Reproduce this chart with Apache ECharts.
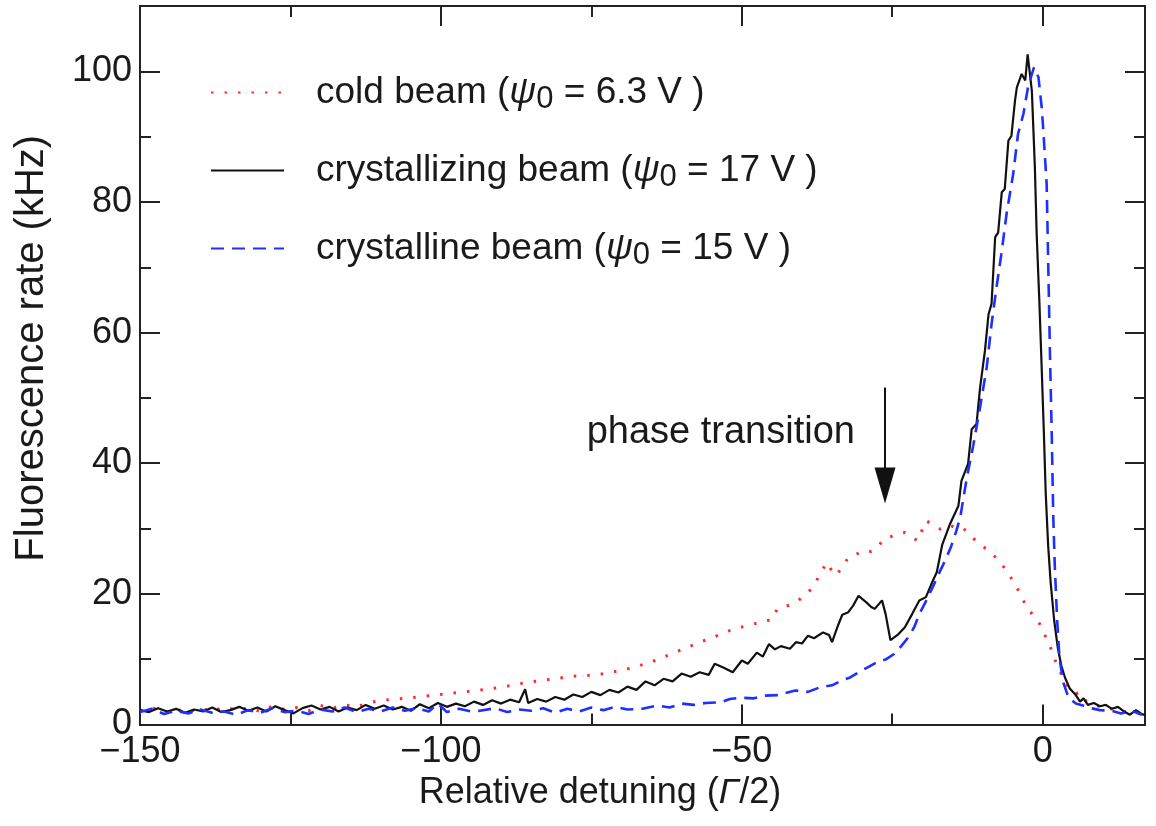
<!DOCTYPE html>
<html>
<head>
<meta charset="utf-8">
<script src="https://cdn.jsdelivr.net/npm/echarts@6/dist/echarts.min.js"></script>
<style>
  html, body { margin: 0; padding: 0; background: #fff; }
  #chart { width: 1156px; height: 826px; }
</style>
</head>
<body>
<div id="chart"></div>
<script>
// cold beam (psi0 = 6.3 V), red dotted
const coldX = [-150, -148, -146, -144, -142, -140, -138, -136, -134, -132, -130, -128, -126, -124, -122, -120, -118, -116, -114, -112,
  -110, -106, -102, -98, -94, -90, -86, -82, -78, -74, -70, -67.7, -64, -61.8, -59, -57.1, -55, -53, -50.5, -48.8, -46, -45, -44.1,
  -42, -40.6, -39, -38.2, -37, -35.9, -35, -34.4, -33.3, -32.3, -31, -30, -28.5, -27.6, -26.4, -24.5, -22.9, -21.5, -20.8, -19.4,
  -18, -17, -15.5, -14.6, -13.4, -12.2, -11.1, -10, -8.7, -7.2, -5.8, -4.2, -2.8, -1.5, -0.5, 0.5, 1.3, 2.2, 3.1, 4.2, 5.5, 6.2,
  7.2, 8.5, 10.2, 12, 13.5, 14.8, 16.5];
const coldY = [2.1, 2.6, 1.8, 2.3, 1.9, 2.5, 2.0, 2.7, 2.2, 2.5, 2.0, 2.8, 2.3, 2.6, 2.1, 2.9, 2.5, 3.0, 2.7, 3.3,
  3.7, 4.0, 4.4, 4.8, 5.2, 5.7, 6.4, 6.9, 7.4, 7.6, 8.3, 8.8, 9.9, 10.8, 11.8, 12.6, 13.2, 14.1, 14.8, 15.2, 15.9, 16.0, 17.7,
  18.3, 19.0, 20.2, 21.0, 23.0, 24.8, 23.5, 22.8, 24.0, 25.6, 26.0, 26.6, 26.5, 26.9, 28.4, 29.0, 29.4, 28.6, 28.1, 31.2,
  30.5, 29.9, 30.5, 30.2, 30.2, 29.2, 28.1, 27.3, 26.4, 25.0, 23.3, 20.8, 18.2, 16.6, 15.4, 13.4, 11.8, 9.5, 7.7, 5.8, 4.7, 4.9,
  3.6, 3.0, 2.6, 2.3, 2.0, 1.9, 1.7];

// crystallizing beam (psi0 = 17 V), black solid
const crystallizingX = [-150, -148.5, -147, -145.5, -144, -142.5, -141, -139.5, -138, -136.5, -135, -133.5, -132, -130.5, -129,
  -127.5, -126, -124.5, -123, -121.5, -120, -118.5, -117, -115.5, -114, -112.5, -111, -109.5, -108, -106.5, -105, -103.5, -102,
  -100.5, -99, -97.5, -96, -94.5, -93, -91.5, -90, -88.5, -87, -86, -85.5, -84, -82.5, -81, -79.5, -78, -76.5, -75, -73.5, -72,
  -70.5, -69, -67.5, -66, -64.5, -63, -61.5, -60, -58.5, -57, -55.5, -54.5, -53, -51.5, -50, -49, -47.5, -46.5, -45.5, -44.5,
  -43.5, -42, -41, -40, -39, -38, -36.5, -35.5, -35, -34, -33.3, -32.3, -31.5, -30.6, -29.3, -28.5, -27.9, -26.7, -26.1, -25.3,
  -24, -22.9, -21.7, -20.5, -19.4, -18.5, -17.6, -16.7, -15.4, -14, -13.5, -12.4, -11.8, -11, -10.4, -9.6, -9, -8.5, -7.9,
  -7.4, -6.8, -6.3, -5.7, -5.2, -4.6, -4.3, -3.5, -2.9, -2.5, -1.8, -1.5, -1.3, -1, -0.56, -0.17, 0.2, 0.5, 0.9, 1.3, 1.9,
  2.5, 3.1, 3.7, 4.5, 5.5, 6.2, 6.8, 7.5, 8.5, 9.5, 10.5, 11.5, 12.5, 13.5, 14.5, 15.5, 16.5, 17];
const crystallizingY = [2.2, 1.9, 2.5, 2.0, 2.4, 1.8, 2.3, 2.0, 2.6, 1.9, 2.2, 2.7, 2.1, 2.6, 2.0,
  2.8, 2.2, 1.7, 2.5, 2.9, 2.3, 2.7, 2.0, 2.6, 2.2, 3.0, 2.4, 2.9, 2.3, 2.7, 2.1, 3.1, 2.5,
  3.3, 2.7, 3.2, 2.8, 3.5, 3.0, 3.7, 3.2, 3.8, 3.4, 5.4, 3.3, 3.9, 3.5, 4.2, 3.8, 4.6, 4.2, 5.0, 4.5, 5.3,
  4.9, 5.8, 5.3, 6.6, 6.0, 7.0, 6.6, 7.8, 7.3, 8.0, 7.6, 9.3, 8.7, 8.0, 9.8, 9.3, 11.0, 10.4, 12.3, 11.5,
  12.0, 11.6, 12.6, 12.4, 13.6, 13.2, 14.1, 13.7, 12.6, 15.2, 16.8, 17.2, 18.2, 19.7, 18.7, 18.0, 17.7, 19.0, 16.9, 12.9,
  13.8, 14.9, 16.9, 19.0, 19.5, 21.5, 23.3, 27.5, 30.7, 33.5, 37.3, 39.9, 45.2, 46.0, 51.6, 57.2, 62.8, 64.4, 74.6,
  75.3, 81.5, 82.0, 89.4, 90.1, 95.5, 97.5, 99.6, 98.6, 102.6, 97.0, 90.0, 85.3, 75.1, 64.9, 54.7, 44.5, 35.5, 27.5, 22.0, 16.0,
  11.8, 9.0, 7.2, 5.5, 4.5, 3.5, 4.0, 3.0, 3.3, 2.8, 3.0, 2.4, 2.7, 2.0, 1.5, 2.2, 1.6, 1.4];

// crystalline beam (psi0 = 15 V), blue dashed
const crystallineX = [-150, -148, -146, -144, -142, -140, -138, -136, -134, -132, -130, -128, -126, -124, -122, -120, -118, -116,
  -114, -112, -110, -108, -106, -104, -102, -100.5, -99, -97, -95, -93.5, -91, -89, -87, -85, -83, -81, -79, -77, -75, -73, -71,
  -69, -66.5, -64, -62, -60, -58, -56, -53.5, -52, -50, -48, -46.5, -44, -41.1, -39, -37, -35, -33.5, -32, -30.6, -29, -27.6,
  -26, -24.7, -23.5, -22.3, -21.3, -20.5, -19.6, -18.8, -17.9, -17, -16.1, -15.2, -14.4, -13.7, -13.2, -12.6, -11.5, -10.4,
  -9.3, -8.5, -7.6, -6.8, -6, -4.9, -4.1, -3.2, -2.4, -1.45, -0.7, -0.17, 0.1, 0.66, 0.93, 1.2, 1.5, 1.76, 2, 2.4, 2.8, 3.4,
  4.3, 5.5, 6.7, 8, 9.5, 11.4, 13, 14.8, 16.5];
const crystallineY = [1.9, 2.4, 1.6, 2.1, 1.7, 2.3, 1.8, 2.0, 1.5, 2.2, 1.8, 2.5, 1.9, 2.1, 1.6, 2.3, 2.0, 2.6,
  1.9, 2.4, 2.0, 2.6, 2.1, 2.5, 2.0, 3.2, 1.9, 2.4, 2.0, 2.1, 2.5, 1.9, 2.3, 2.1, 2.5, 1.8, 2.4, 2.0, 2.6, 2.2, 2.7,
  2.3, 2.4, 2.9, 2.6, 3.2, 3.0, 3.3, 3.4, 3.9, 4.1, 4.0, 4.4, 4.5, 5.2, 5.0, 5.7, 6.0, 6.7, 7.2, 8.0, 8.8, 9.5,
  10.0, 10.8, 12.0, 13.4, 15.0, 16.9, 18.5, 20.0, 21.8, 23.6, 25.3, 27.3, 29.5, 31.7, 34.5, 37.8, 42.9, 48.6,
  54.7, 61.3, 67.4, 72.5, 78.2, 84.3, 90.4, 93.5, 97.8, 100.6, 99.1, 94.5, 91.0, 82.7, 70.0, 57.2, 44.5, 31.7, 24.5, 16.0, 10.1, 6.5,
  4.1, 3.2, 2.9, 2.5, 2.2, 2.1, 1.7, 2.1, 1.5];

// arrow marking the phase transition: x, top of shaft, end of shaft
const arrowX = -26.2;
const arrowTop = 51.6;
const arrowTip = 36.6;
const annotation = [[-31.2, 44.7]];

const textColor = '#1a1a1a';
const axisColor = '#222';
const font = 'Liberation Sans';

const pairs = (xs, ys) => xs.map((x, i) => [x, ys[i]]);

function xAxisDef(position, interval, len, labels) {
  return {
    type: 'value', position: position, min: -150, max: 17, interval: interval,
    axisLine: { show: true, onZero: false, lineStyle: { color: axisColor, width: 2 } },
    axisTick: { show: true, inside: true, length: len, lineStyle: { color: axisColor, width: 2 } },
    splitLine: { show: false },
    axisLabel: labels ? {
      show: true, fontSize: 36, fontFamily: font, color: textColor, margin: 10,
      formatter: v => (v % 50 === 0 ? String(v).replace('-', '\u2212') : '')
    } : { show: false }
  };
}

function yAxisDef(position, interval, len, labels) {
  return {
    type: 'value', position: position, min: 0, max: 110, interval: interval,
    axisLine: { show: true, onZero: false, lineStyle: { color: axisColor, width: 2 } },
    axisTick: { show: true, inside: true, length: len, lineStyle: { color: axisColor, width: 2 } },
    splitLine: { show: false },
    axisLabel: labels ? {
      show: true, fontSize: 36, fontFamily: font, color: textColor, margin: 8,
      formatter: v => (v % 20 === 0 && v <= 100 ? String(v) : '')
    } : { show: false }
  };
}

const xMain = xAxisDef('bottom', 50, 20, true);
xMain.name = 'Relative detuning ({g|\u0393}/2)';
xMain.nameLocation = 'middle';
xMain.nameGap = 36;
xMain.nameTextStyle = {
  fontSize: 36, fontFamily: font, color: textColor, padding: [0, 85, 0, 0],
  rich: { g: { fontSize: 36, fontFamily: font, fontStyle: 'italic', color: textColor } }
};

const yMain = yAxisDef('left', 20, 20, true);
yMain.name = 'Fluorescence rate (kHz)';
yMain.nameLocation = 'middle';
yMain.nameGap = 88;
yMain.nameTextStyle = { fontSize: 40, fontFamily: font, color: textColor, padding: [0, 0, 0, 34] };

const legendRich = {
  psi: { fontSize: 37, fontFamily: font, fontStyle: 'italic', color: textColor },
  sub: { fontSize: 31, fontFamily: font, color: textColor, lineHeight: 26, padding: [14, 0, 0, 0] }
};

const chart = echarts.init(document.getElementById('chart'));
chart.setOption({
  animation: false,
  backgroundColor: '#fff',
  grid: { left: 140, right: 11, top: 6, bottom: 101.5 },
  xAxis: [
    xMain,
    xAxisDef('bottom', 25, 11, false),
    xAxisDef('top', 50, 20, false),
    xAxisDef('top', 25, 11, false)
  ],
  yAxis: [
    yMain,
    yAxisDef('left', 10, 11, false),
    yAxisDef('right', 20, 20, false),
    yAxisDef('right', 10, 11, false)
  ],
  legend: {
    orient: 'vertical',
    left: 205,
    top: 65,
    itemWidth: 73,
    itemHeight: 14,
    itemGap: 33,
    itemStyle: { opacity: 0 },
    data: ['cold beam', 'crystallizing beam', 'crystalline beam'],
    formatter: function (name) {
      const v = { 'cold beam': '6.3', 'crystallizing beam': '17', 'crystalline beam': '15' }[name];
      return name + ' ({psi|\u03c8}{sub|0} = ' + v + ' V )';
    },
    textStyle: { fontSize: 37, fontFamily: font, color: textColor, lineHeight: 40, padding: [0, 0, 0, 27], rich: legendRich }
  },
  series: [
    {
      name: 'cold beam', type: 'line', data: pairs(coldX, coldY), showSymbol: false, symbol: 'none',
      itemStyle: { color: '#ff2a2a' },
      lineStyle: { color: '#ff2a2a', width: 3, type: [2.5, 11] }
    },
    {
      name: 'crystallizing beam', type: 'line', data: pairs(crystallizingX, crystallizingY), showSymbol: false, symbol: 'none',
      itemStyle: { color: '#111' },
      lineStyle: { color: '#111', width: 2.2 },
      markLine: {
        silent: true,
        symbol: ['none', 'triangle'],
        symbolSize: [21, 36],
        label: { show: false },
        lineStyle: { color: '#111', width: 2, type: 'solid' },
        data: [[{ coord: [arrowX, arrowTop] }, { coord: [arrowX, arrowTip] }]]
      }
    },
    {
      name: 'crystalline beam', type: 'line', data: pairs(crystallineX, crystallineY), showSymbol: false, symbol: 'none',
      itemStyle: { color: '#1f2fff' },
      lineStyle: { color: '#1f2fff', width: 2.6, type: [13, 8] }
    },
    {
      name: 'annotation', type: 'scatter', data: annotation, symbolSize: 0, silent: true,
      itemStyle: { opacity: 1 },
      label: {
        show: true, position: 'left', distance: 0, formatter: 'phase transition',
        fontSize: 38, fontFamily: font, color: textColor
      }
    }
  ]
});
</script>
</body>
</html>
